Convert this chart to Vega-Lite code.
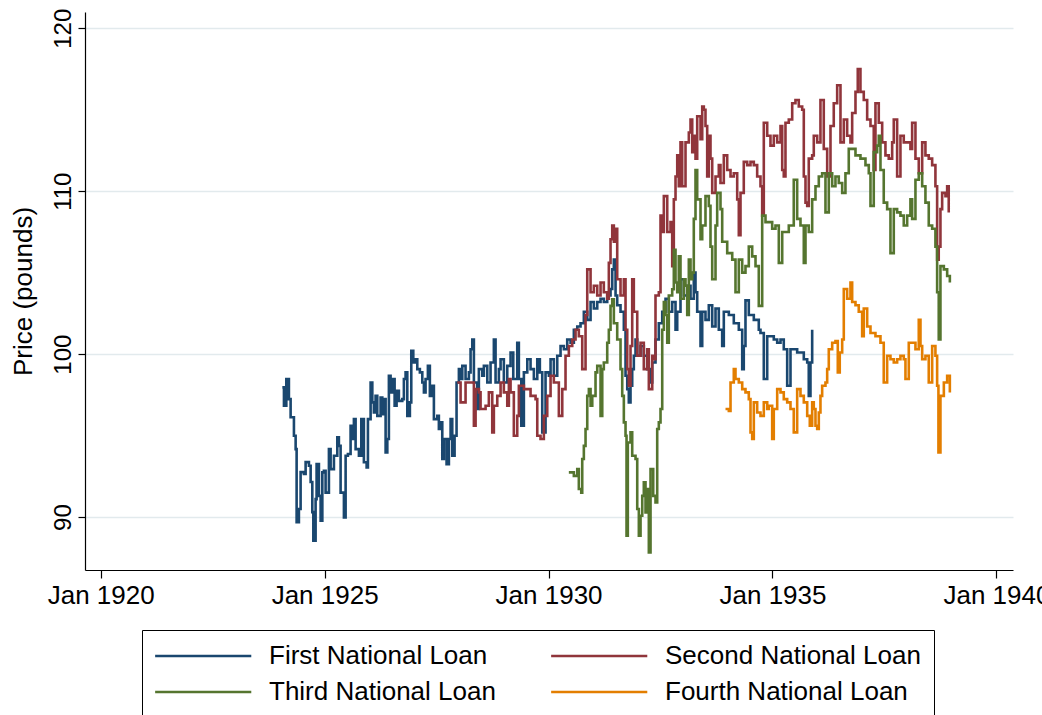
{
  "$schema": "https://vega.github.io/schema/vega-lite/v6.json",
  "width": 928,
  "height": 558,
  "autosize": {"type": "none"},
  "padding": {"left": 85, "top": 12, "right": 29, "bottom": 145},
  "background": "white",
  "config": {"view": {"stroke": null}, "font": "Liberation Sans"},
  "datasets": {
    "first": [
      {"t":1924.056,"p":97.96},{"t":1924.092,"p":96.83},{"t":1924.145,"p":98.47},{"t":1924.203,"p":97.24},{"t":1924.241,"p":96.13},{"t":1924.315,"p":94.99},{"t":1924.353,"p":94.17},{"t":1924.375,"p":89.69},{"t":1924.426,"p":90.49},{"t":1924.464,"p":92.76},{"t":1924.538,"p":92.64},{"t":1924.576,"p":93.37},{"t":1924.650,"p":93.15},{"t":1924.688,"p":92.15},{"t":1924.725,"p":90.3},{"t":1924.748,"p":88.55},{"t":1924.799,"p":91.1},{"t":1924.821,"p":93.25},{"t":1924.873,"p":91.3},{"t":1924.911,"p":89.77},{"t":1924.949,"p":92.74},{"t":1924.984,"p":92.84},{"t":1925.022,"p":91.5},{"t":1925.096,"p":94.17},{"t":1925.134,"p":92.94},{"t":1925.208,"p":93.76},{"t":1925.283,"p":94.89},{"t":1925.319,"p":94.37},{"t":1925.357,"p":91.5},{"t":1925.431,"p":89.98},{"t":1925.469,"p":93.76},{"t":1925.520,"p":93.87},{"t":1925.580,"p":95.6},{"t":1925.618,"p":94.79},{"t":1925.654,"p":96.01},{"t":1925.692,"p":94.17},{"t":1925.766,"p":93.76},{"t":1925.819,"p":96.01},{"t":1925.877,"p":93.36},{"t":1925.938,"p":93.05},{"t":1925.967,"p":96.01},{"t":1926.027,"p":98.26},{"t":1926.065,"p":97.04},{"t":1926.100,"p":96.42},{"t":1926.138,"p":97.44},{"t":1926.176,"p":96.21},{"t":1926.250,"p":97.34},{"t":1926.288,"p":96.32},{"t":1926.324,"p":97.24},{"t":1926.362,"p":93.97},{"t":1926.400,"p":94.79},{"t":1926.435,"p":98.67},{"t":1926.473,"p":97.65},{"t":1926.511,"p":98.47},{"t":1926.563,"p":96.83},{"t":1926.607,"p":97.75},{"t":1926.658,"p":97.13},{"t":1926.734,"p":97.24},{"t":1926.770,"p":98.47},{"t":1926.808,"p":98.88},{"t":1926.846,"p":96.21},{"t":1926.904,"p":97.04},{"t":1926.935,"p":100.2},{"t":1926.980,"p":99.49},{"t":1927.031,"p":99.69},{"t":1927.069,"p":99.08},{"t":1927.127,"p":98.88},{"t":1927.181,"p":98.26},{"t":1927.217,"p":97.65},{"t":1927.254,"p":98.47},{"t":1927.306,"p":99.28},{"t":1927.350,"p":97.44},{"t":1927.404,"p":98.06},{"t":1927.440,"p":96.01},{"t":1927.516,"p":96.21},{"t":1927.551,"p":95.4},{"t":1927.589,"p":95.81},{"t":1927.627,"p":93.56},{"t":1927.663,"p":94.79},{"t":1927.723,"p":93.25},{"t":1927.775,"p":94.79},{"t":1927.813,"p":96.01},{"t":1927.850,"p":93.76},{"t":1927.902,"p":94.99},{"t":1927.946,"p":98.26},{"t":1927.998,"p":99.08},{"t":1928.036,"p":98.47},{"t":1928.074,"p":99.28},{"t":1928.147,"p":98.47},{"t":1928.221,"p":98.88},{"t":1928.259,"p":100.3},{"t":1928.297,"p":100.9},{"t":1928.333,"p":98.26},{"t":1928.408,"p":96.63},{"t":1928.444,"p":99.08},{"t":1928.520,"p":98.67},{"t":1928.556,"p":99.28},{"t":1928.632,"p":98.26},{"t":1928.705,"p":99.49},{"t":1928.779,"p":100.9},{"t":1928.817,"p":98.26},{"t":1928.891,"p":99.08},{"t":1928.929,"p":99.69},{"t":1929.002,"p":98.26},{"t":1929.078,"p":99.28},{"t":1929.152,"p":100.1},{"t":1929.212,"p":98.47},{"t":1929.301,"p":100.7},{"t":1929.337,"p":98.47},{"t":1929.391,"p":95.6},{"t":1929.449,"p":98.88},{"t":1929.525,"p":99.69},{"t":1929.598,"p":99.08},{"t":1929.672,"p":98.47},{"t":1929.748,"p":99.69},{"t":1929.806,"p":98.88},{"t":1929.859,"p":95.2},{"t":1929.933,"p":98.88},{"t":1930.007,"p":98.67},{"t":1930.045,"p":99.69},{"t":1930.118,"p":98.67},{"t":1930.194,"p":99.9},{"t":1930.268,"p":100.5},{"t":1930.342,"p":100.3},{"t":1930.417,"p":100.9},{"t":1930.491,"p":100.7},{"t":1930.565,"p":101.5},{"t":1930.641,"p":101.7},{"t":1930.714,"p":101.9},{"t":1930.788,"p":102.6},{"t":1930.864,"p":102.1},{"t":1930.938,"p":103.2},{"t":1931.011,"p":102.8},{"t":1931.087,"p":103.2},{"t":1931.161,"p":103.4},{"t":1931.234,"p":103.2},{"t":1931.310,"p":103.6},{"t":1931.384,"p":104.0},{"t":1931.422,"p":105.2},{"t":1931.458,"p":105.8},{"t":1931.496,"p":103.6},{"t":1931.533,"p":103.0},{"t":1931.607,"p":102.6},{"t":1931.681,"p":101.5},{"t":1931.719,"p":98.67},{"t":1931.757,"p":97.85},{"t":1931.792,"p":97.04},{"t":1931.830,"p":98.06},{"t":1931.868,"p":99.08},{"t":1931.904,"p":99.9},{"t":1931.942,"p":100.9},{"t":1931.980,"p":99.9},{"t":1932.054,"p":100.5},{"t":1932.127,"p":99.9},{"t":1932.203,"p":99.08},{"t":1932.277,"p":98.26},{"t":1932.315,"p":99.49},{"t":1932.388,"p":100.9},{"t":1932.462,"p":101.9},{"t":1932.538,"p":102.6},{"t":1932.612,"p":103.4},{"t":1932.685,"p":102.6},{"t":1932.761,"p":103.2},{"t":1932.835,"p":101.5},{"t":1932.873,"p":102.6},{"t":1932.946,"p":104.6},{"t":1933.020,"p":103.6},{"t":1933.096,"p":104.2},{"t":1933.170,"p":103.4},{"t":1933.243,"p":105.0},{"t":1933.281,"p":103.8},{"t":1933.319,"p":102.6},{"t":1933.393,"p":100.5},{"t":1933.431,"p":102.6},{"t":1933.504,"p":102.1},{"t":1933.578,"p":103.0},{"t":1933.654,"p":101.7},{"t":1933.728,"p":102.8},{"t":1933.801,"p":101.5},{"t":1933.877,"p":100.5},{"t":1933.913,"p":102.6},{"t":1934.025,"p":102.4},{"t":1934.136,"p":101.9},{"t":1934.248,"p":101.5},{"t":1934.324,"p":99.08},{"t":1934.359,"p":100.5},{"t":1934.397,"p":103.3},{"t":1934.471,"p":102.4},{"t":1934.583,"p":102.1},{"t":1934.694,"p":101.5},{"t":1934.732,"p":101.3},{"t":1934.806,"p":98.47},{"t":1934.882,"p":101.1},{"t":1935.029,"p":100.9},{"t":1935.105,"p":100.7},{"t":1935.179,"p":100.9},{"t":1935.252,"p":100.3},{"t":1935.290,"p":100.3},{"t":1935.328,"p":98.06},{"t":1935.402,"p":100.3},{"t":1935.551,"p":100.1},{"t":1935.699,"p":99.69},{"t":1935.775,"p":99.49},{"t":1935.810,"p":97.44},{"t":1935.848,"p":99.49},{"t":1935.886,"p":101.5}
    ],
    "second": [
      {"t":1927.962,"p":98.26},{"t":1928.036,"p":97.04},{"t":1928.147,"p":98.26},{"t":1928.259,"p":98.26},{"t":1928.333,"p":95.6},{"t":1928.371,"p":97.85},{"t":1928.444,"p":97.65},{"t":1928.482,"p":96.63},{"t":1928.594,"p":96.83},{"t":1928.667,"p":97.65},{"t":1928.743,"p":95.2},{"t":1928.779,"p":96.83},{"t":1928.855,"p":97.44},{"t":1928.929,"p":98.26},{"t":1929.002,"p":97.65},{"t":1929.078,"p":96.83},{"t":1929.114,"p":98.47},{"t":1929.152,"p":97.65},{"t":1929.225,"p":94.99},{"t":1929.301,"p":96.21},{"t":1929.337,"p":98.06},{"t":1929.449,"p":97.85},{"t":1929.598,"p":97.44},{"t":1929.710,"p":97.24},{"t":1929.748,"p":94.99},{"t":1929.821,"p":94.79},{"t":1929.895,"p":96.21},{"t":1929.971,"p":97.44},{"t":1930.045,"p":98.67},{"t":1930.118,"p":98.26},{"t":1930.230,"p":96.21},{"t":1930.306,"p":97.85},{"t":1930.379,"p":99.9},{"t":1930.453,"p":100.5},{"t":1930.529,"p":100.9},{"t":1930.603,"p":101.5},{"t":1930.676,"p":101.1},{"t":1930.752,"p":99.08},{"t":1930.826,"p":102.4},{"t":1930.864,"p":105.2},{"t":1930.938,"p":103.8},{"t":1931.011,"p":104.2},{"t":1931.087,"p":103.6},{"t":1931.161,"p":104.4},{"t":1931.234,"p":103.8},{"t":1931.310,"p":103.4},{"t":1931.346,"p":105.6},{"t":1931.384,"p":107.05},{"t":1931.422,"p":107.9},{"t":1931.458,"p":106.9},{"t":1931.496,"p":107.7},{"t":1931.533,"p":104.6},{"t":1931.607,"p":103.6},{"t":1931.681,"p":104.6},{"t":1931.719,"p":101.5},{"t":1931.757,"p":99.08},{"t":1931.792,"p":98.06},{"t":1931.830,"p":100.5},{"t":1931.868,"p":104.6},{"t":1931.904,"p":102.6},{"t":1931.980,"p":99.9},{"t":1932.054,"p":100.7},{"t":1932.127,"p":99.08},{"t":1932.203,"p":100.3},{"t":1932.239,"p":97.85},{"t":1932.315,"p":99.9},{"t":1932.350,"p":99.69},{"t":1932.388,"p":103.6},{"t":1932.462,"p":103.8},{"t":1932.500,"p":108.5},{"t":1932.538,"p":107.5},{"t":1932.574,"p":109.7},{"t":1932.650,"p":107.5},{"t":1932.723,"p":108.1},{"t":1932.761,"p":105.4},{"t":1932.797,"p":109.5},{"t":1932.835,"p":110.9},{"t":1932.873,"p":112.2},{"t":1932.908,"p":110.3},{"t":1932.946,"p":113.0},{"t":1932.984,"p":110.3},{"t":1933.058,"p":113.0},{"t":1933.132,"p":113.6},{"t":1933.170,"p":114.4},{"t":1933.208,"p":112.4},{"t":1933.243,"p":113.4},{"t":1933.281,"p":112.0},{"t":1933.319,"p":114.6},{"t":1933.393,"p":113.2},{"t":1933.431,"p":115.2},{"t":1933.467,"p":115.0},{"t":1933.504,"p":114.0},{"t":1933.542,"p":110.9},{"t":1933.578,"p":113.4},{"t":1933.616,"p":112.0},{"t":1933.654,"p":109.9},{"t":1933.728,"p":110.9},{"t":1933.801,"p":111.6},{"t":1933.839,"p":110.5},{"t":1933.913,"p":112.2},{"t":1933.989,"p":111.3},{"t":1934.063,"p":110.9},{"t":1934.136,"p":111.1},{"t":1934.212,"p":109.5},{"t":1934.248,"p":107.3},{"t":1934.286,"p":109.9},{"t":1934.359,"p":111.8},{"t":1934.435,"p":111.6},{"t":1934.509,"p":111.8},{"t":1934.583,"p":111.6},{"t":1934.658,"p":110.9},{"t":1934.732,"p":110.3},{"t":1934.770,"p":108.5},{"t":1934.806,"p":114.2},{"t":1934.882,"p":113.4},{"t":1934.955,"p":112.8},{"t":1935.029,"p":113.4},{"t":1935.105,"p":113.0},{"t":1935.179,"p":114.0},{"t":1935.217,"p":111.3},{"t":1935.252,"p":110.9},{"t":1935.290,"p":114.2},{"t":1935.364,"p":114.4},{"t":1935.440,"p":115.4},{"t":1935.513,"p":115.6},{"t":1935.587,"p":115.2},{"t":1935.663,"p":115.0},{"t":1935.699,"p":110.9},{"t":1935.737,"p":109.3},{"t":1935.775,"p":109.1},{"t":1935.810,"p":112.0},{"t":1935.886,"p":112.2},{"t":1935.922,"p":113.4},{"t":1935.998,"p":113.0},{"t":1936.071,"p":115.6},{"t":1936.145,"p":112.6},{"t":1936.221,"p":110.9},{"t":1936.295,"p":114.0},{"t":1936.368,"p":115.4},{"t":1936.444,"p":116.5},{"t":1936.518,"p":113.0},{"t":1936.592,"p":114.4},{"t":1936.667,"p":113.4},{"t":1936.741,"p":113.0},{"t":1936.779,"p":114.8},{"t":1936.853,"p":116.1},{"t":1936.904,"p":117.5},{"t":1936.964,"p":116.1},{"t":1937.038,"p":115.6},{"t":1937.114,"p":114.4},{"t":1937.188,"p":114.0},{"t":1937.261,"p":111.3},{"t":1937.299,"p":115.4},{"t":1937.373,"p":114.2},{"t":1937.449,"p":113.0},{"t":1937.522,"p":112.2},{"t":1937.596,"p":112.0},{"t":1937.672,"p":113.0},{"t":1937.708,"p":114.4},{"t":1937.783,"p":110.9},{"t":1937.857,"p":113.4},{"t":1937.931,"p":113.0},{"t":1938.007,"p":113.0},{"t":1938.080,"p":112.6},{"t":1938.118,"p":114.2},{"t":1938.192,"p":112.0},{"t":1938.266,"p":111.1},{"t":1938.342,"p":113.0},{"t":1938.415,"p":112.2},{"t":1938.489,"p":112.0},{"t":1938.565,"p":111.6},{"t":1938.638,"p":110.3},{"t":1938.676,"p":105.8},{"t":1938.712,"p":106.6},{"t":1938.750,"p":108.9},{"t":1938.788,"p":109.9},{"t":1938.862,"p":109.7},{"t":1938.900,"p":110.3},{"t":1938.935,"p":108.7}
    ],
    "third": [
      {"t":1930.453,"p":92.74},{"t":1930.565,"p":92.53},{"t":1930.641,"p":92.94},{"t":1930.676,"p":91.72},{"t":1930.730,"p":91.5},{"t":1930.752,"p":93.56},{"t":1930.788,"p":94.37},{"t":1930.826,"p":95.4},{"t":1930.864,"p":97.44},{"t":1930.900,"p":97.85},{"t":1930.938,"p":96.83},{"t":1930.976,"p":97.44},{"t":1931.049,"p":98.88},{"t":1931.087,"p":99.28},{"t":1931.161,"p":96.21},{"t":1931.199,"p":99.08},{"t":1931.234,"p":99.49},{"t":1931.310,"p":100.7},{"t":1931.346,"p":101.5},{"t":1931.384,"p":102.96},{"t":1931.422,"p":103.37},{"t":1931.458,"p":101.9},{"t":1931.533,"p":100.9},{"t":1931.607,"p":99.08},{"t":1931.645,"p":97.44},{"t":1931.681,"p":95.81},{"t":1931.719,"p":94.99},{"t":1931.741,"p":88.85},{"t":1931.770,"p":94.58},{"t":1931.830,"p":95.2},{"t":1931.868,"p":93.76},{"t":1931.942,"p":93.56},{"t":1931.980,"p":90.49},{"t":1932.016,"p":88.85},{"t":1932.054,"p":90.08},{"t":1932.092,"p":91.3},{"t":1932.127,"p":92.13},{"t":1932.165,"p":90.29},{"t":1932.203,"p":91.72},{"t":1932.239,"p":87.83},{"t":1932.277,"p":92.94},{"t":1932.337,"p":91.3},{"t":1932.388,"p":90.9},{"t":1932.426,"p":95.4},{"t":1932.462,"p":95.81},{"t":1932.500,"p":96.63},{"t":1932.538,"p":101.5},{"t":1932.574,"p":103.2},{"t":1932.612,"p":102.4},{"t":1932.650,"p":100.7},{"t":1932.685,"p":103.6},{"t":1932.761,"p":103.98},{"t":1932.797,"p":106.4},{"t":1932.835,"p":104.4},{"t":1932.873,"p":103.8},{"t":1932.908,"p":106.0},{"t":1932.946,"p":103.4},{"t":1933.020,"p":104.6},{"t":1933.058,"p":104.2},{"t":1933.096,"p":102.4},{"t":1933.132,"p":105.8},{"t":1933.170,"p":104.6},{"t":1933.208,"p":105.0},{"t":1933.243,"p":108.3},{"t":1933.281,"p":111.3},{"t":1933.319,"p":109.5},{"t":1933.393,"p":107.05},{"t":1933.431,"p":107.9},{"t":1933.504,"p":109.7},{"t":1933.578,"p":109.1},{"t":1933.616,"p":106.6},{"t":1933.654,"p":104.6},{"t":1933.728,"p":107.9},{"t":1933.765,"p":109.9},{"t":1933.839,"p":108.9},{"t":1933.877,"p":106.9},{"t":1933.989,"p":106.2},{"t":1934.101,"p":105.8},{"t":1934.174,"p":103.8},{"t":1934.248,"p":105.8},{"t":1934.324,"p":105.0},{"t":1934.397,"p":105.4},{"t":1934.471,"p":106.6},{"t":1934.547,"p":106.0},{"t":1934.621,"p":105.4},{"t":1934.694,"p":102.96},{"t":1934.770,"p":108.5},{"t":1934.844,"p":108.1},{"t":1934.917,"p":108.1},{"t":1934.993,"p":107.7},{"t":1935.067,"p":107.9},{"t":1935.141,"p":105.6},{"t":1935.217,"p":107.5},{"t":1935.290,"p":107.5},{"t":1935.364,"p":107.9},{"t":1935.475,"p":110.7},{"t":1935.551,"p":108.3},{"t":1935.625,"p":107.9},{"t":1935.699,"p":105.6},{"t":1935.737,"p":107.9},{"t":1935.810,"p":107.5},{"t":1935.886,"p":109.5},{"t":1935.960,"p":110.3},{"t":1936.034,"p":110.9},{"t":1936.109,"p":111.1},{"t":1936.183,"p":108.7},{"t":1936.257,"p":111.1},{"t":1936.333,"p":110.3},{"t":1936.406,"p":110.9},{"t":1936.480,"p":110.5},{"t":1936.556,"p":109.9},{"t":1936.629,"p":111.1},{"t":1936.703,"p":112.6},{"t":1936.779,"p":112.6},{"t":1936.853,"p":112.2},{"t":1936.964,"p":112.0},{"t":1937.076,"p":111.6},{"t":1937.150,"p":111.1},{"t":1937.188,"p":109.1},{"t":1937.261,"p":112.4},{"t":1937.337,"p":112.8},{"t":1937.373,"p":113.4},{"t":1937.411,"p":111.3},{"t":1937.484,"p":109.3},{"t":1937.560,"p":108.9},{"t":1937.634,"p":106.2},{"t":1937.708,"p":108.9},{"t":1937.783,"p":108.7},{"t":1937.857,"p":108.5},{"t":1937.931,"p":107.9},{"t":1938.007,"p":108.5},{"t":1938.080,"p":109.5},{"t":1938.118,"p":108.3},{"t":1938.192,"p":110.7},{"t":1938.266,"p":111.1},{"t":1938.342,"p":110.3},{"t":1938.415,"p":109.3},{"t":1938.489,"p":107.9},{"t":1938.565,"p":107.7},{"t":1938.638,"p":106.6},{"t":1938.676,"p":103.8},{"t":1938.712,"p":100.9},{"t":1938.750,"p":105.4},{"t":1938.826,"p":105.2},{"t":1938.900,"p":104.8},{"t":1938.960,"p":104.4}
    ],
    "fourth": [
      {"t":1933.951,"p":96.63},{"t":1934.025,"p":96.52},{"t":1934.063,"p":98.26},{"t":1934.136,"p":99.08},{"t":1934.174,"p":98.47},{"t":1934.248,"p":98.26},{"t":1934.324,"p":97.85},{"t":1934.397,"p":97.65},{"t":1934.471,"p":97.24},{"t":1934.509,"p":95.2},{"t":1934.547,"p":94.79},{"t":1934.583,"p":97.04},{"t":1934.658,"p":96.42},{"t":1934.732,"p":96.21},{"t":1934.806,"p":97.04},{"t":1934.882,"p":96.63},{"t":1934.917,"p":96.83},{"t":1934.993,"p":94.79},{"t":1935.029,"p":96.63},{"t":1935.105,"p":97.85},{"t":1935.179,"p":97.65},{"t":1935.252,"p":97.24},{"t":1935.328,"p":97.04},{"t":1935.402,"p":96.63},{"t":1935.475,"p":95.2},{"t":1935.551,"p":97.85},{"t":1935.625,"p":97.44},{"t":1935.699,"p":97.04},{"t":1935.775,"p":96.21},{"t":1935.833,"p":95.6},{"t":1935.886,"p":97.04},{"t":1935.922,"p":96.63},{"t":1935.960,"p":95.6},{"t":1935.998,"p":95.4},{"t":1936.034,"p":96.42},{"t":1936.071,"p":97.44},{"t":1936.109,"p":98.06},{"t":1936.183,"p":98.26},{"t":1936.221,"p":99.08},{"t":1936.257,"p":100.3},{"t":1936.333,"p":100.7},{"t":1936.406,"p":100.8},{"t":1936.458,"p":98.88},{"t":1936.502,"p":100.1},{"t":1936.556,"p":100.9},{"t":1936.592,"p":104.0},{"t":1936.667,"p":103.4},{"t":1936.741,"p":104.4},{"t":1936.779,"p":103.2},{"t":1936.853,"p":103.0},{"t":1936.926,"p":102.6},{"t":1937.002,"p":101.1},{"t":1937.038,"p":102.8},{"t":1937.114,"p":101.7},{"t":1937.188,"p":101.3},{"t":1937.299,"p":101.1},{"t":1937.411,"p":100.7},{"t":1937.484,"p":98.26},{"t":1937.560,"p":99.9},{"t":1937.634,"p":99.69},{"t":1937.708,"p":99.49},{"t":1937.783,"p":99.69},{"t":1937.857,"p":99.9},{"t":1937.931,"p":99.69},{"t":1937.969,"p":98.47},{"t":1938.043,"p":100.7},{"t":1938.118,"p":100.7},{"t":1938.192,"p":100.3},{"t":1938.266,"p":102.1},{"t":1938.304,"p":100.5},{"t":1938.342,"p":99.69},{"t":1938.415,"p":99.9},{"t":1938.489,"p":98.26},{"t":1938.565,"p":100.5},{"t":1938.638,"p":99.9},{"t":1938.676,"p":98.06},{"t":1938.705,"p":93.97},{"t":1938.750,"p":97.44},{"t":1938.826,"p":98.26},{"t":1938.900,"p":98.67},{"t":1938.960,"p":97.65}
    ]
  },
  "encoding": {
    "x": {
      "field": "t",
      "type": "quantitative",
      "scale": {"domain": [1919.65, 1940.37], "nice": false, "zero": false},
      "axis": {
        "title": null,
        "values": [1920, 1925, 1930, 1935, 1940],
        "labelExpr": "'Jan ' + datum.value",
        "labelFontSize": 26,
        "labelColor": "black",
        "labelFlush": false,
        "labelOverlap": false,
        "labelBound": false,
        "labelPadding": 4,
        "tickSize": 8,
        "tickColor": "black",
        "tickWidth": 1.2,
        "domainColor": "black",
        "domainWidth": 1.2,
        "grid": false
      }
    },
    "y": {
      "field": "p",
      "type": "quantitative",
      "scale": {"domain": [86.75, 121.0], "nice": false, "zero": false},
      "axis": {
        "title": "Price (pounds)",
        "titleFontSize": 26,
        "titleFontWeight": "normal",
        "titleColor": "black",
        "titleX": -49,
        "titleY": 279,
        "values": [90, 100, 110, 120],
        "labelAngle": 270,
        "labelFontSize": 24,
        "labelColor": "black",
        "labelPadding": 3,
        "tickSize": 7,
        "tickColor": "black",
        "tickWidth": 1.2,
        "domainColor": "black",
        "domainWidth": 1.2,
        "grid": true,
        "gridColor": "#e2eaed",
        "gridWidth": 1.5
      }
    }
  },
  "layer": [
    {
      "data": {"name": "first"},
      "mark": {"type": "line", "strokeWidth": 2.6, "interpolate": "step-after"},
      "encoding": {
        "color": {
          "datum": "First National Loan",
          "type": "nominal",
          "scale": {
            "domain": ["First National Loan", "Second National Loan", "Third National Loan", "Fourth National Loan"],
            "range": ["#1a476f", "#90353b", "#55752f", "#e37e00"]
          },
          "legend": {
            "title": null,
            "orient": "none",
            "direction": "horizontal",
            "legendX": 57,
            "legendY": 618,
            "columns": 2,
            "symbolType": "M-2.1,0H13.6",
            "symbolSize": 150,
            "symbolStrokeWidth": 2.4,
            "labelFontSize": 26,
            "labelColor": "black",
            "labelOffset": 88,
            "labelLimit": 500,
            "columnPadding": 50,
            "rowPadding": 10,
            "padding": 13,
            "strokeColor": "black",
            "fillColor": "white"
          }
        }
      }
    },
    {
      "data": {"name": "second"},
      "mark": {"type": "line", "strokeWidth": 2.6, "interpolate": "step-after"},
      "encoding": {"color": {"datum": "Second National Loan", "type": "nominal"}}
    },
    {
      "data": {"name": "third"},
      "mark": {"type": "line", "strokeWidth": 2.6, "interpolate": "step-after"},
      "encoding": {"color": {"datum": "Third National Loan", "type": "nominal"}}
    },
    {
      "data": {"name": "fourth"},
      "mark": {"type": "line", "strokeWidth": 2.6, "interpolate": "step-after"},
      "encoding": {"color": {"datum": "Fourth National Loan", "type": "nominal"}}
    }
  ]
}
